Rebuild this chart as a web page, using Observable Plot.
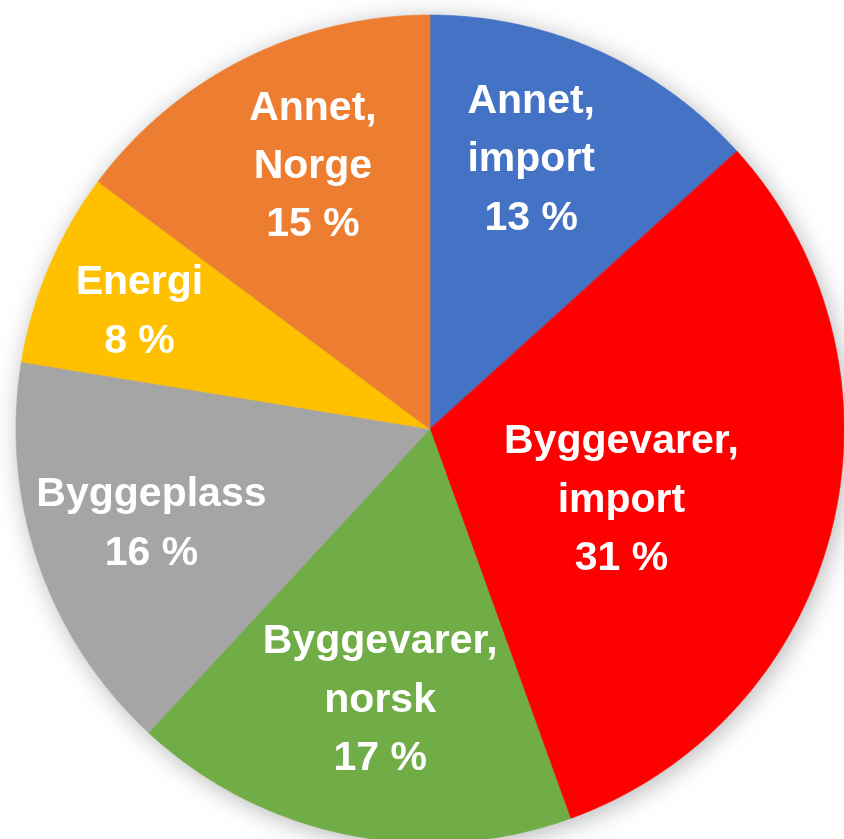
<!DOCTYPE html>
<html>
<head>
<meta charset="utf-8">
<script src="https://cdn.jsdelivr.net/npm/d3@7"></script>
<script src="https://cdn.jsdelivr.net/npm/@observablehq/plot@0.6"></script>
<style>
  html, body { margin: 0; padding: 0; background: #ffffff; overflow: hidden; }
  #chart svg { display: block; }
</style>
</head>
<body>
<div id="chart"></div>
<script>
// Data (clockwise from 12 o'clock)
const names = ["Annet, import", "Byggevarer, import", "Byggevarer, norsk", "Byggeplass", "Energi", "Annet, Norge"];
const labels = ["Annet,\nimport", "Byggevarer,\nimport", "Byggevarer,\nnorsk", "Byggeplass", "Energi", "Annet,\nNorge"];
const values = [13.3, 31.2, 17.4, 15.7, 7.6, 14.8];
const colors = ["#4472C4", "#FF0000", "#70AD47", "#A5A5A5", "#FFC000", "#ED7D31"];

// Layout
const W = 844, H = 839;
const cx = 430, cy = 429, R = 414;
const labelRadius = [0.70, 0.49, 0.66, 0.71, 0.76, 0.70];
const labelAngleShift = [-3.6, 5.7, -0.9, 0.6, -0.7, 2.7]; // degrees

const total = d3.sum(values);
let acc = 0;
const slices = values.map((v, i) => {
  const a0 = acc / total * 2 * Math.PI;
  acc += v;
  const a1 = acc / total * 2 * Math.PI;
  return {name: names[i], label: labels[i], value: v, a0, a1, i};
});

const arcPts = [];
for (const s of slices) {
  const n = Math.max(2, Math.ceil((s.a1 - s.a0) / (Math.PI / 360)));
  for (let k = 0; k <= n; k++) {
    const a = s.a0 + (s.a1 - s.a0) * k / n;
    arcPts.push({name: s.name, x1: 0, y1: 0, x2: Math.sin(a), y2: Math.cos(a)});
  }
}

const labelData = slices.map(s => {
  const a = (s.a0 + s.a1) / 2 + labelAngleShift[s.i] * Math.PI / 180;
  const r = labelRadius[s.i];
  return {text: s.label + "\n" + Math.round(s.value) + " %", x: r * Math.sin(a), y: r * Math.cos(a)};
});

const chart = Plot.plot({
  width: W,
  height: H,
  margin: 0,
  style: {background: "transparent", overflow: "visible"},
  x: {domain: [-cx / R, (W - cx) / R], axis: null},
  y: {domain: [-(H - cy) / R, cy / R], axis: null},
  color: {domain: names, range: colors},
  marks: [
    Plot.area(arcPts, {x1: "x1", y1: "y1", x2: "x2", y2: "y2", z: "name", fill: "name", stroke: "name", strokeWidth: 0.6}),
    Plot.text(labelData, {
      x: "x", y: "y", text: "text",
      fill: "white",
      fontFamily: "Liberation Sans, Arial, sans-serif",
      fontWeight: "bold",
      fontSize: 41,
      lineHeight: 1.42,
      textAnchor: "middle",
      lineAnchor: "middle",
      dy: -5
    })
  ]
});
chart.style.filter = "drop-shadow(3px 4px 12px rgba(0,0,0,0.28))";
document.getElementById("chart").appendChild(chart);
</script>
</body>
</html>
